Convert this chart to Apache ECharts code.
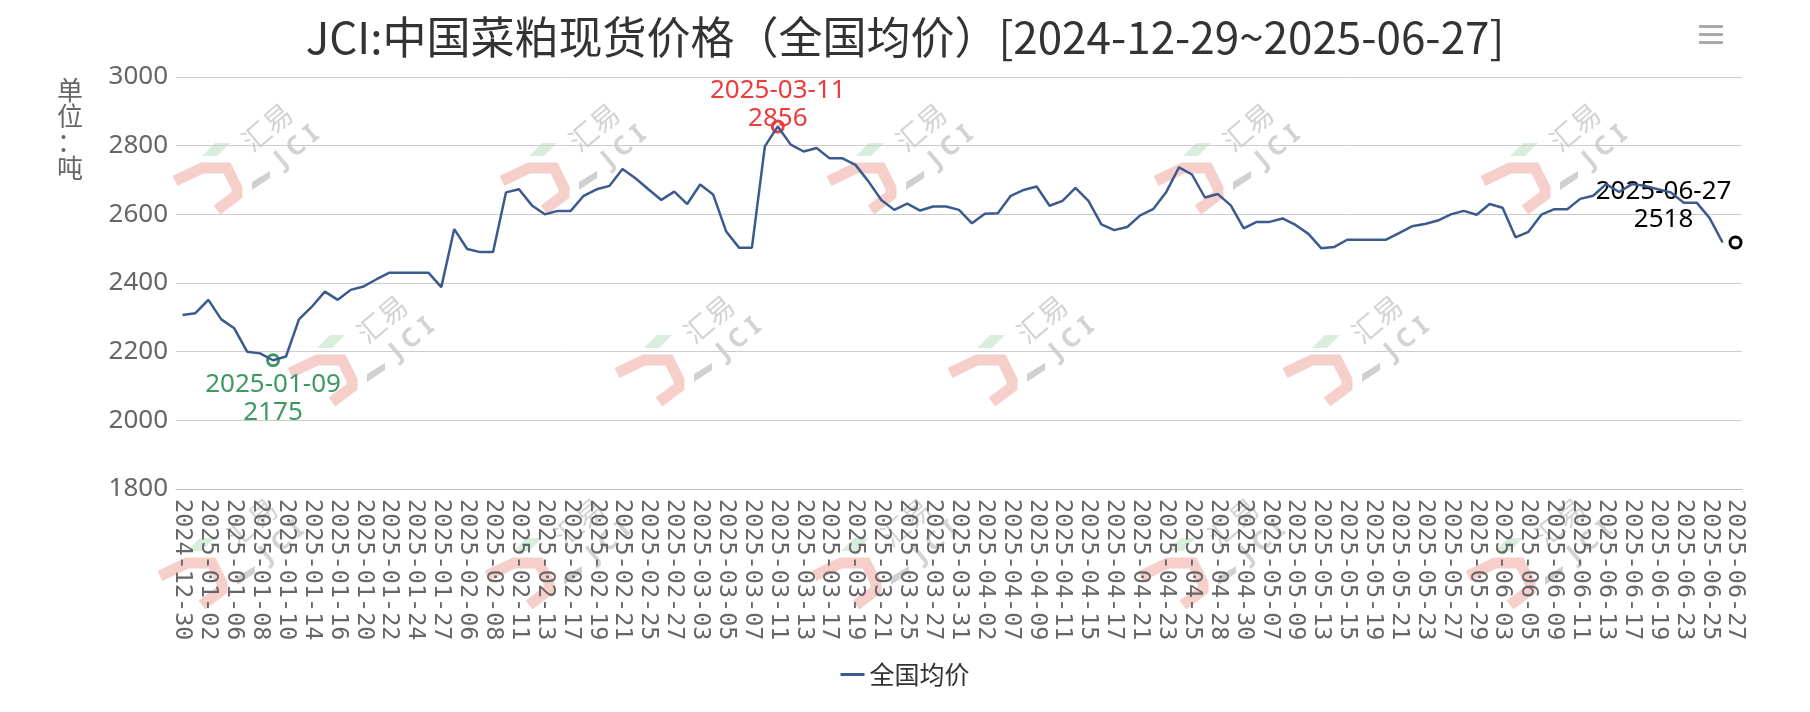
<!DOCTYPE html>
<html>
<head>
<meta charset="utf-8">
<script src="https://cdn.jsdelivr.net/npm/echarts@6/dist/echarts.min.js"></script>
<style>
html,body{margin:0;padding:0;background:#fff;}
#chart{width:1810px;height:712px;}
</style>
</head>
<body>
<div id="chart"></div>
<script>
const titleText = 'JCI:中国菜粕现货价格（全国均价）[2024-12-29~2025-06-27]';
const seriesName = '全国均价';
const yAxisName = '单\n位\n：\n吨';

const categories = [
'2024-12-30','2024-12-31','2025-01-02','2025-01-03','2025-01-06','2025-01-07','2025-01-08','2025-01-09','2025-01-10','2025-01-13',
'2025-01-14','2025-01-15','2025-01-16','2025-01-17','2025-01-20','2025-01-21','2025-01-22','2025-01-23','2025-01-24','2025-01-26',
'2025-01-27','2025-02-05','2025-02-06','2025-02-07','2025-02-08','2025-02-10','2025-02-11','2025-02-12','2025-02-13','2025-02-14',
'2025-02-17','2025-02-18','2025-02-19','2025-02-20','2025-02-21','2025-02-24','2025-02-25','2025-02-26','2025-02-27','2025-02-28',
'2025-03-03','2025-03-04','2025-03-05','2025-03-06','2025-03-07','2025-03-10','2025-03-11','2025-03-12','2025-03-13','2025-03-14',
'2025-03-17','2025-03-18','2025-03-19','2025-03-20','2025-03-21','2025-03-24','2025-03-25','2025-03-26','2025-03-27','2025-03-28',
'2025-03-31','2025-04-01','2025-04-02','2025-04-03','2025-04-07','2025-04-08','2025-04-09','2025-04-10','2025-04-11','2025-04-14',
'2025-04-15','2025-04-16','2025-04-17','2025-04-18','2025-04-21','2025-04-22','2025-04-23','2025-04-24','2025-04-25','2025-04-27',
'2025-04-28','2025-04-29','2025-04-30','2025-05-06','2025-05-07','2025-05-08','2025-05-09','2025-05-12','2025-05-13','2025-05-14',
'2025-05-15','2025-05-16','2025-05-19','2025-05-20','2025-05-21','2025-05-22','2025-05-23','2025-05-26','2025-05-27','2025-05-28',
'2025-05-29','2025-05-30','2025-06-03','2025-06-04','2025-06-05','2025-06-06','2025-06-09','2025-06-10','2025-06-11','2025-06-12',
'2025-06-13','2025-06-16','2025-06-17','2025-06-18','2025-06-19','2025-06-20','2025-06-23','2025-06-24','2025-06-25','2025-06-26',
'2025-06-27'
];

const prices = [
2307,2312,2351,2294,2268,2200,2195,2175,2186,2294,
2331,2375,2351,2380,2390,2411,2430,2430,2430,2430,
2388,2557,2499,2490,2490,2664,2673,2626,2600,2610,
2610,2654,2673,2683,2732,2705,2673,2642,2666,2630,
2687,2658,2551,2503,2503,2798,2856,2803,2783,2793,
2763,2763,2744,2696,2642,2613,2631,2611,2623,2623,
2613,2574,2602,2603,2654,2671,2681,2625,2639,2677,
2639,2571,2554,2563,2597,2615,2664,2737,2716,2649,
2659,2626,2559,2578,2578,2588,2569,2543,2501,2505,
2526,2526,2526,2526,2545,2565,2572,2582,2600,2610,
2599,2630,2619,2533,2549,2599,2615,2615,2645,2654,
2688,2665,2688,2683,2673,2664,2634,2634,2589,2518,
null
];

const lastMark = ['2025-06-27', 2518];

const yMin = 1800, yMax = 3000, yStep = 200;

// locate min / max from the data
let minIdx = 0, maxIdx = 0;
prices.forEach((v, i) => {
  if (v == null) return;
  if (v < prices[minIdx]) minIdx = i;
  if (v > prices[maxIdx]) maxIdx = i;
});

// watermark decoration
const wmOrigins = [
  [170,130],[497,130],[824,130],[1151,130],[1478,130],
  [285,322],[612,322],[945,322],[1280,322],
  [155,525],[482,525],[809,525],[1136,525],[1463,525]
];
function watermark(o){
  return {
    type:'group', x:o[0], y:o[1], silent:true, z:-10,
    children:[
      {type:'polygon', shape:{points:[[32,26],[45,13],[60,13],[47,26]]}, style:{fill:'rgba(120,190,130,0.28)'}, z:-10},
      {type:'polyline', shape:{points:[[5,51],[32,38],[57,38],[67,58],[67,65],[47,80]]}, style:{stroke:'rgba(228,110,95,0.33)', lineWidth:11, fill:null, lineJoin:'miter'}, z:-10},
      {type:'polygon', shape:{points:[[82,52],[100,41],[100,48],[82,60]]}, style:{fill:'rgba(150,150,150,0.45)'}, z:-10},
      {type:'text', x:97, y:-3, rotation:0.7, style:{text:'汇易', fill:'rgba(150,150,150,0.42)', font:'28px "Noto Sans CJK SC"', align:'center', verticalAlign:'middle'}, z:-10},
      {type:'text', x:127, y:17, rotation:0.7, style:{text:'J C I', fill:'rgba(150,150,150,0.42)', font:'bold 26px "Noto Sans"', align:'center', verticalAlign:'middle'}, z:-10}
    ]
  };
}

const yNameGraphic = {
  type:'text', x:70, y:77, silent:true,
  style:{text:yAxisName, fill:'#666', font:'26px "Noto Sans CJK SC"', lineHeight:26, align:'center', verticalAlign:'top'}
};

const labelFont = '"Noto Sans", "Noto Sans CJK SC", sans-serif';
const fmt = p => p.data.coord[0] + '\n' + p.data.coord[1];

const chart = echarts.init(document.getElementById('chart'), null, {renderer:'canvas'});
chart.setOption({
  backgroundColor:'#fff',
  animation:false,
  title:{
    text:titleText, left:'center', top:10,
    textStyle:{fontSize:44, fontWeight:'normal', color:'#333', fontFamily:'"Noto Sans CJK SC", sans-serif'}
  },
  toolbox:{
    right:72, top:10, itemSize:24,
    iconStyle:{color:'#aaa', borderWidth:0},
    feature:{
      myMenu:{show:true, title:'', icon:'path://M0,0L24,0L24,3L0,3Z M0,8L24,8L24,11L0,11Z M0,16L24,16L24,19L0,19Z', onclick:function(){}}
    }
  },
  legend:{
    data:[seriesName], bottom:20, icon:'rect', itemWidth:24, itemHeight:3, itemGap:10,
    textStyle:{fontSize:25, color:'#333', fontFamily:'"Noto Sans CJK SC", sans-serif'}
  },
  grid:{left:176, right:68, top:77, bottom:223, containLabel:false, outerBoundsMode:'none'},
  graphic: wmOrigins.map(watermark).concat([yNameGraphic]),
  xAxis:{
    type:'category', data:categories, boundaryGap:true,
    axisLine:{lineStyle:{color:'#bbb'}},
    axisTick:{interval:0, length:5, lineStyle:{color:'#bbb'}},
    axisLabel:{interval:1, rotate:-90, fontSize:23.5, margin:10, color:'#666', fontFamily:'"DejaVu Sans Mono", monospace'}
  },
  yAxis:{
    type:'value', min:yMin, max:yMax, interval:yStep,
    axisLine:{show:false}, axisTick:{show:false},
    axisLabel:{fontSize:26, color:'#666', margin:8, fontFamily:labelFont, formatter:v => String(v)},
    splitLine:{lineStyle:{color:'#ccc'}}
  },
  series:[{
    name:seriesName, type:'line', data:prices, symbol:'none', smooth:false,
    lineStyle:{color:'#3b5a8e', width:2.5},
    itemStyle:{color:'#3b5a8e'},
    z:5,
    markPoint:{
      symbol:'circle', symbolSize:11,
      data:[
        {coord:[categories[minIdx], prices[minIdx]],
         itemStyle:{color:'#fff', borderColor:'#3e9a62', borderWidth:3},
         label:{show:true, position:'bottom', distance:3, formatter:fmt, color:'#3e9a62', fontSize:26, lineHeight:28, fontFamily:labelFont}},
        {coord:[categories[maxIdx], prices[maxIdx]],
         itemStyle:{color:'#fff', borderColor:'#ee3b3b', borderWidth:3},
         label:{show:true, position:'top', distance:0, offset:[0,13], formatter:fmt, color:'#ee3b3b', fontSize:26, lineHeight:28, fontFamily:labelFont}},
        {coord:lastMark,
         itemStyle:{color:'#fff', borderColor:'#000', borderWidth:3},
         label:{show:true, position:'inside', offset:[-72,-37], formatter:fmt, color:'#000', fontSize:26, lineHeight:28, fontFamily:labelFont}}
      ]
    }
  }]
});
</script>
</body>
</html>
